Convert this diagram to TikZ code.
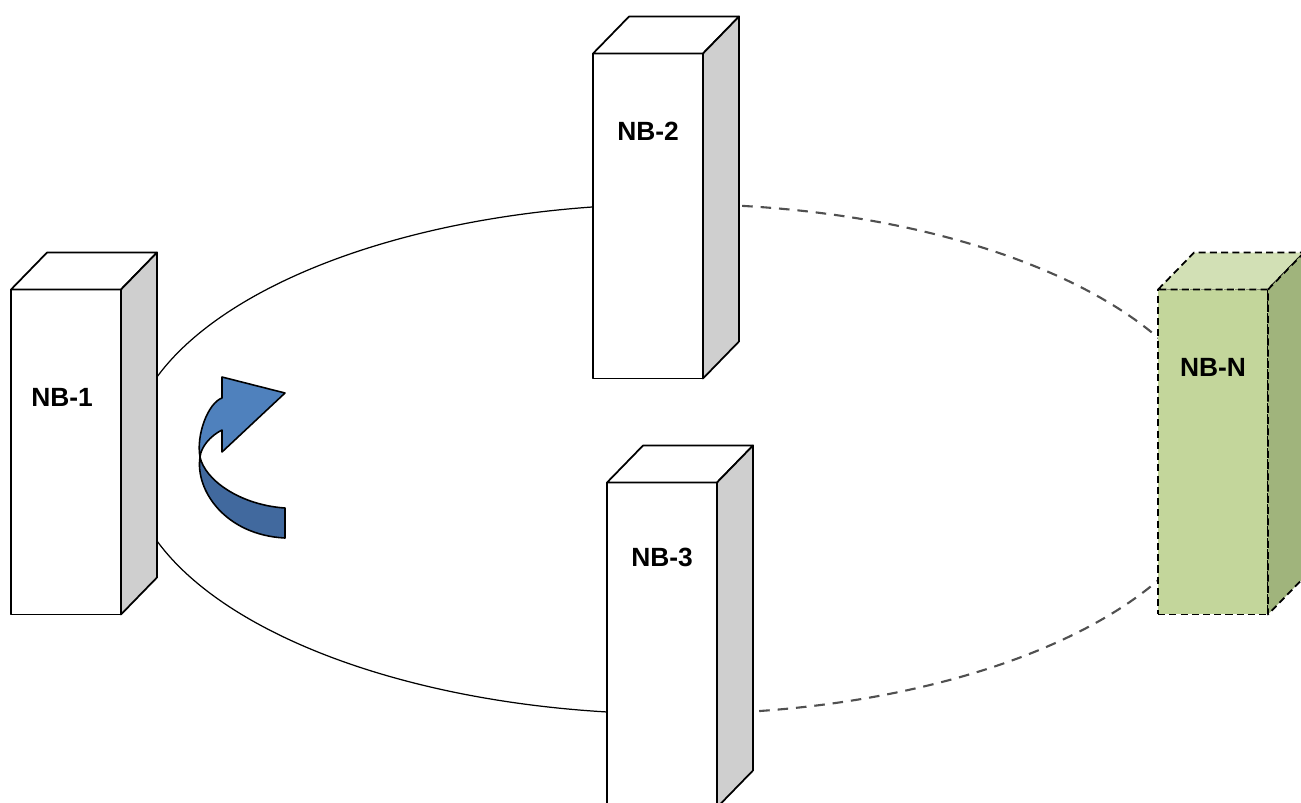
\documentclass[tikz,border=0pt]{standalone}
\usepackage{fontspec}
\setmainfont{Liberation Sans}
\usetikzlibrary{positioning, calc}

\definecolor{sidegray}{RGB}{207,207,207}
\definecolor{nbfront}{RGB}{195,214,155}
\definecolor{nbtop}{RGB}{210,224,181}
\definecolor{nbside}{RGB}{160,180,124}
\definecolor{arrowlight}{RGB}{79,129,189}
\definecolor{arrowdark}{RGB}{65,105,158}
\definecolor{ringgray}{RGB}{80,80,80}

\begin{document}
\begin{tikzpicture}[x=0.02cm, y=-0.02cm, line join=round]

\tikzset{
  tower/.style={
    rectangle, draw, line width=1pt, fill=white,
    minimum width=2.2cm, minimum height=6.5cm,
    inner sep=0pt, outer sep=0pt
  },
  face/.style={draw, line width=1pt},
  ghost/.style={dash pattern=on 4pt off 2.4pt},
  tag/.style={font=\bfseries\fontsize{15}{18}\selectfont},
  ringline/.style={line width=0.7pt},
  ringdash/.style={line width=1.2pt, draw=ringgray, dash pattern=on 6pt off 4.5pt},
  ribbon/.style={draw, line width=0.9pt}
}

\useasboundingbox (0,0) rectangle (1301,802);
\clip (0,0) rectangle (1301,802);

% ==========================
% Ring (solid on the left, dashed towards NB-N)
% ==========================
\coordinate (hub) at (676,459);
\draw[ringline] ([shift={(-95:548 and 255)}]hub)
  arc[start angle=-95, end angle=-265, x radius=548, y radius=255];
\draw[ringdash] ([shift={(-85:548 and 255)}]hub)
  arc[start angle=-85, end angle=85, x radius=548, y radius=255];

% ==========================
% Towers (front faces)
% ==========================
\node[tower] (nb1) at (66,452) {};
\node[tower] (nb2) at (648,216) {};
\node[tower] (nb3) at (662,645) {};
\node[tower, ghost, fill=nbfront] (nbn) at (1213,452) {};

% top and side faces
\foreach \t in {nb1,nb2,nb3}{
  \filldraw[face, fill=white] (\t.north west) -- ++(36,-37)
    -- ([shift={(36,-37)}]\t.north east) -- (\t.north east) -- cycle;
  \filldraw[face, fill=sidegray] (\t.north east) -- ++(36,-37)
    -- ([shift={(36,-37)}]\t.south east) -- (\t.south east) -- cycle;
}
\filldraw[face, ghost, fill=nbtop] (nbn.north west) -- ++(36,-37)
  -- ([shift={(36,-37)}]nbn.north east) -- (nbn.north east) -- cycle;
\filldraw[face, ghost, fill=nbside] (nbn.north east) -- ++(36,-37)
  -- ([shift={(36,-37)}]nbn.south east) -- (nbn.south east) -- cycle;

% labels
\node[tag] (nb1tag) at ([xshift=-0.08cm, yshift=-2.16cm]nb1.north) {NB-1};
\node[tag] (nb2tag) at ([yshift=-1.56cm]nb2.north) {NB-2};
\node[tag] (nb3tag) at ([yshift=-1.5cm]nb3.north) {NB-3};
\node[tag] (nbntag) at ([yshift=-1.56cm]nbn.north) {NB-N};

% ==========================
% Curved arrow (direction of the ring)
% ==========================
\filldraw[ribbon, fill=arrowdark] (200,457) .. controls (195,490) and (225,535) .. (285,538)
  -- (285,508) .. controls (240,505) and (205,480) .. (200,457) -- cycle;
\filldraw[ribbon, fill=arrowlight] (222,398) -- (222,377) -- (285,393) -- (222,452) -- (222,430)
  .. controls (210,436) and (201,447) .. (200,457)
  .. controls (196,435) and (208,403) .. (222,398) -- cycle;

\end{tikzpicture}
\end{document}
